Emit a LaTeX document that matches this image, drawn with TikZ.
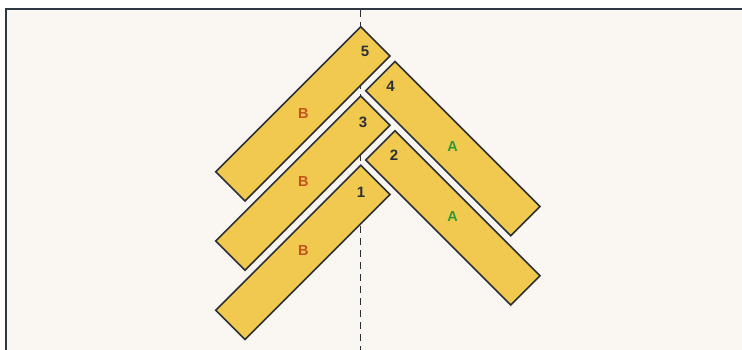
\documentclass[tikz,border=0pt]{standalone}
\usepackage{fontspec}
\setmainfont{Liberation Sans}
\definecolor{bgcream}{HTML}{FAF6F1}
\definecolor{boardfill}{HTML}{F2C94F}
\definecolor{inkdark}{HTML}{2B3036}
\definecolor{framecol}{HTML}{2F3944}
\definecolor{labB}{HTML}{C4521F}
\definecolor{labA}{HTML}{2E9A3A}
\tikzset{
  board/.style={fill=boardfill, draw=inkdark, line width=1.6pt, line join=miter},
  num/.style={font=\bfseries\fontsize{15}{17}\selectfont, text=inkdark, inner sep=0pt},
  tagB/.style={font=\bfseries\fontsize{14.5}{17}\selectfont, text=labB, inner sep=0pt},
  tagA/.style={font=\bfseries\fontsize{14.5}{17}\selectfont, text=labA, inner sep=0pt},
  axisline/.style={draw=inkdark, line width=1.4pt, dash pattern=on 7pt off 5pt},
  framebox/.style={draw=framecol, line width=2.4pt}
}
\begin{document}
\begin{tikzpicture}[x=1pt,y=-1pt]
\useasboundingbox (0,0) rectangle (742,350);
\begin{scope}
\clip (0,0) rectangle (742,350);
\fill[white] (0,0) rectangle (742,350);
\fill[bgcream] (6,9) rectangle (742,350);
% centre axis
\coordinate (axtop) at (360.7,10);
\coordinate (axbot) at (360.7,352);
\draw[axisline] (axtop) -- (axbot);
% B boards (top corner T)
\foreach \ty/\nm in {26.7/b5, 96/b3, 165.3/b1}{
  \draw[board] (360.7,\ty) -- ++(29.3,29.3) -- ++(-145,145) -- ++(-29.3,-29.3) -- cycle;
}
% A boards (left corner L)
\foreach \ly/\nm in {90.7/a4, 160/a2}{
  \draw[board] (365.7,\ly) -- ++(29.3,-29.3) -- ++(145,145) -- ++(-29.3,29.3) -- cycle;
}
% labels
\node[num] (n5) at (365,51) {5};
\node[num] (n4) at (390.5,86.5) {4};
\node[num] (n3) at (363,122) {3};
\node[num] (n2) at (394,155.5) {2};
\node[num] (n1) at (361,192) {1};
\node[tagB] (tb5) at (303.3,113.3) {B};
\node[tagB] (tb3) at (303.3,182) {B};
\node[tagB] (tb1) at (303.3,251) {B};
\node[tagA] (ta4) at (452.7,147) {A};
\node[tagA] (ta2) at (452.7,216.5) {A};
% frame
\coordinate (fbl) at (6,360);
\coordinate (ftl) at (6,9);
\coordinate (ftr) at (750,9);
\draw[framebox] (fbl) -- (ftl) -- (ftr);
\end{scope}
\end{tikzpicture}
\end{document}
